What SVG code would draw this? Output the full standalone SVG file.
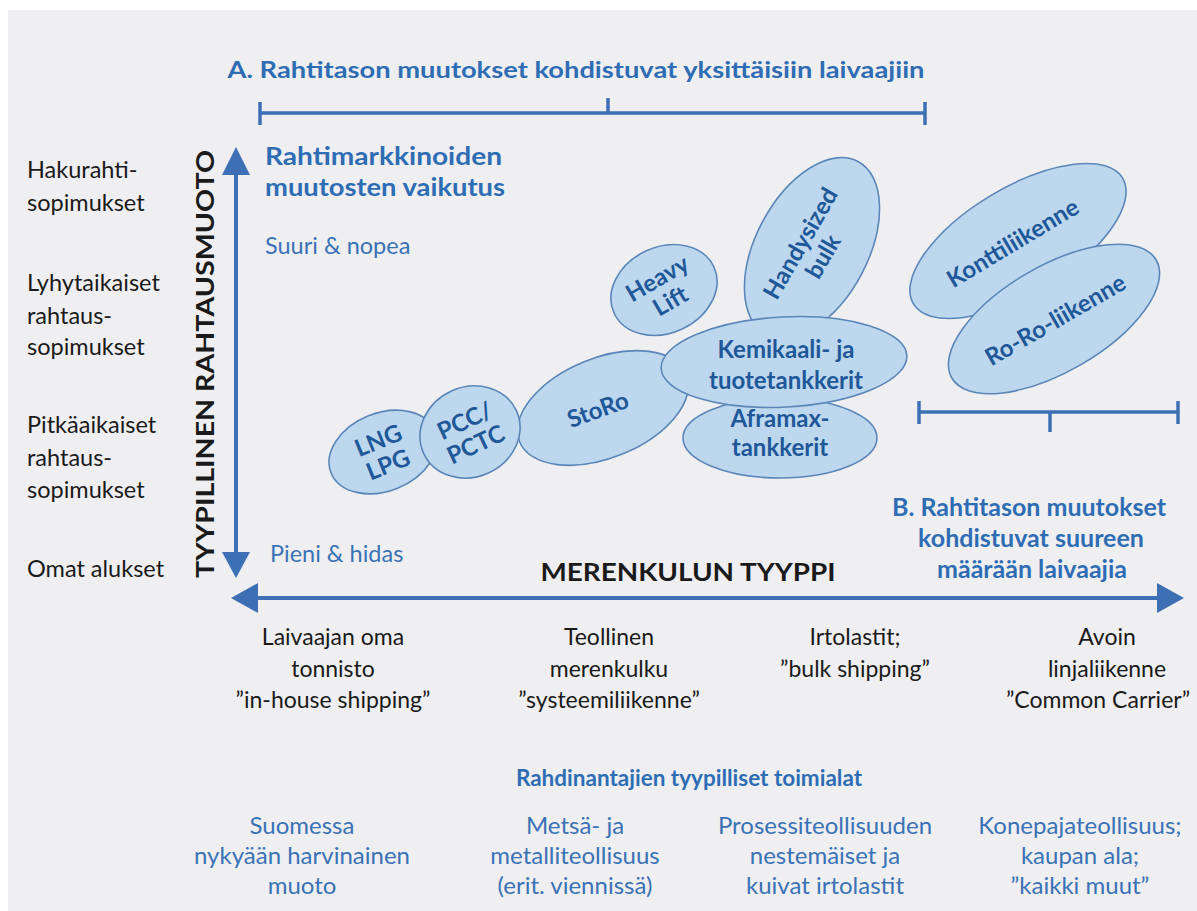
<svg xmlns="http://www.w3.org/2000/svg" width="1197" height="911" viewBox="0 0 1197 911">
<defs>
<style>
text{font-family:Lato,"Open Sans","Liberation Sans",sans-serif;}
.blk{fill:#1a1a1a;font-size:23.5px;}
.blkc{fill:#1a1a1a;font-size:23px;text-anchor:middle;}
.ttl{fill:#2e6db4;font-size:22px;font-weight:bold;}
.blu{fill:#3a72b6;font-size:23.5px;}
.bluc{fill:#3a72b6;font-size:24px;text-anchor:middle;}
.axis{fill:#1a1a1a;font-size:24px;font-weight:bold;}
.ell{fill:#bdd7ee;stroke:#5a86b8;stroke-width:1.6;}
.et{fill:#1f5898;font-size:24px;font-weight:bold;text-anchor:middle;}
.ln{stroke:#3d6fb4;stroke-width:4;fill:none;}
.br{stroke:#3d6fb4;stroke-width:3.5;fill:none;}
.ah{fill:#3d6fb4;}
</style>
</defs>
<rect x="0" y="0" width="1197" height="911" fill="#ffffff"/>
<rect x="8" y="10" width="1189" height="901" fill="#efeff1"/>

<g id="connectors">
  <line class="ln" x1="236" y1="170" x2="236" y2="556"/>
  <polygon class="ah" points="236,147 222,175 250,175"/>
  <polygon class="ah" points="236,578 222,552 250,552"/>
  <line class="ln" x1="254" y1="598" x2="1162" y2="598"/>
  <polygon class="ah" points="231,598 258,583 258,613"/>
  <polygon class="ah" points="1184,598 1157,583 1157,613"/>
  <g id="bracketA">
    <line class="br" x1="260" y1="113" x2="925" y2="113"/>
    <line class="br" x1="260" y1="102" x2="260" y2="125"/>
    <line class="br" x1="925" y1="102" x2="925" y2="125"/>
    <line class="br" x1="608" y1="98" x2="608" y2="113"/>
  </g>
  <g id="bracketB">
    <line class="br" x1="919" y1="412" x2="1178" y2="412"/>
    <line class="br" x1="919" y1="401" x2="919" y2="424"/>
    <line class="br" x1="1178" y1="401" x2="1178" y2="424"/>
    <line class="br" x1="1050" y1="412" x2="1050" y2="432"/>
  </g>
</g>

<g id="titleA"><text class="ttl" x="576" y="78" text-anchor="middle" textLength="697" lengthAdjust="spacingAndGlyphs">A. Rahtitason muutokset kohdistuvat yksittäisiin laivaajiin</text></g>

<g id="yaxis-label"><text class="axis" transform="translate(214,364) rotate(-90)" text-anchor="middle" textLength="428" lengthAdjust="spacingAndGlyphs">TYYPILLINEN RAHTAUSMUOTO</text></g>

<g id="left-labels">
  <text class="blk" x="27" y="178">Hakurahti-</text>
  <text class="blk" x="27" y="211">sopimukset</text>
  <text class="blk" x="27" y="291">Lyhytaikaiset</text>
  <text class="blk" x="27" y="324">rahtaus-</text>
  <text class="blk" x="27" y="355">sopimukset</text>
  <text class="blk" x="27" y="433">Pitkäaikaiset</text>
  <text class="blk" x="27" y="466">rahtaus-</text>
  <text class="blk" x="27" y="498">sopimukset</text>
  <text class="blk" x="27" y="577">Omat alukset</text>
</g>

<g id="market-effect">
  <text class="ttl" x="265" y="165" style="font-size:25px" textLength="237" lengthAdjust="spacingAndGlyphs">Rahtimarkkinoiden</text>
  <text class="ttl" x="265" y="196" style="font-size:25px" textLength="240" lengthAdjust="spacingAndGlyphs">muutosten vaikutus</text>
  <text class="blu" x="265" y="254">Suuri &amp; nopea</text>
  <text class="blu" x="270" y="562">Pieni &amp; hidas</text>
</g>

<g id="xaxis-label"><text class="axis" x="688" y="581" text-anchor="middle" style="font-size:25px" textLength="295" lengthAdjust="spacingAndGlyphs">MERENKULUN TYYPPI</text></g>

<g id="titleB">
  <text class="ttl" x="1029" y="516" text-anchor="middle" style="font-size:25px">B. Rahtitason muutokset</text>
  <text class="ttl" x="1031" y="547" text-anchor="middle" style="font-size:25px">kohdistuvat suureen</text>
  <text class="ttl" x="1032" y="578" text-anchor="middle" style="font-size:25px">määrään laivaajia</text>
</g>

<g id="node-lng">
  <ellipse class="ell" cx="383" cy="452" rx="56" ry="39" transform="rotate(-22 383 452)"/>
  <g transform="rotate(-22 383 452)"><text class="et" x="383" y="448">LNG</text><text class="et" x="383" y="474">LPG</text></g>
</g>
<g id="node-storo">
  <ellipse class="ell" cx="603" cy="408" rx="90" ry="50" transform="rotate(-22 603 408)"/>
  <text class="et" x="598" y="418" transform="rotate(-20 598 410)">StoRo</text>
</g>
<g id="node-pcc">
  <ellipse class="ell" cx="470" cy="432" rx="51" ry="45" transform="rotate(-25 470 432)"/>
  <g transform="rotate(-25 470 432)"><text class="et" x="470" y="428">PCC/</text><text class="et" x="470" y="454">PCTC</text></g>
</g>
<g id="node-heavy">
  <ellipse class="ell" cx="664" cy="290" rx="55" ry="43" transform="rotate(-25 664 290)"/>
  <g transform="rotate(-30 664 290)"><text class="et" x="664" y="285">Heavy</text><text class="et" x="664" y="311">Lift</text></g>
</g>
<g id="node-handy">
  <ellipse class="ell" cx="812" cy="248" rx="98" ry="56" transform="rotate(-62 812 248)"/>
  <g transform="rotate(-60 812 250)"><text class="et" x="812" y="245">Handysized</text><text class="et" x="812" y="271">bulk</text></g>
</g>
<g id="node-aframax">
  <ellipse class="ell" cx="780" cy="438" rx="97" ry="40"/>
  <text class="et" x="780" y="427">Aframax-</text>
  <text class="et" x="780" y="456">tankkerit</text>
</g>
<g id="node-kemikaali">
  <ellipse class="ell" cx="784" cy="362" rx="123" ry="45" transform="rotate(-3 784 362)"/>
  <text class="et" x="786" y="358">Kemikaali- ja</text>
  <text class="et" x="786" y="389">tuotetankkerit</text>
</g>
<g id="node-kontti">
  <ellipse class="ell" cx="1018" cy="241" rx="122" ry="53" transform="rotate(-31 1018 241)"/>
  <text class="et" x="1014" y="251" transform="rotate(-31 1014 245)">Konttiliikenne</text>
</g>
<g id="node-roro">
  <ellipse class="ell" cx="1054" cy="319" rx="118" ry="53" transform="rotate(-30 1054 319)"/>
  <text class="et" x="1056" y="328" transform="rotate(-30 1056 321)">Ro-Ro-liikenne</text>
</g>

<g id="shipping-types">
  <text class="blkc" x="333" y="645">Laivaajan oma</text>
  <text class="blkc" x="333" y="677">tonnisto</text>
  <text class="blkc" x="333" y="708">”in-house shipping”</text>
  <text class="blkc" x="609" y="645">Teollinen</text>
  <text class="blkc" x="609" y="677">merenkulku</text>
  <text class="blkc" x="609" y="708">”systeemiliikenne”</text>
  <text class="blkc" x="855" y="645">Irtolastit;</text>
  <text class="blkc" x="855" y="677">”bulk shipping”</text>
  <text class="blkc" x="1107" y="645">Avoin</text>
  <text class="blkc" x="1107" y="677">linjaliikenne</text>
  <text class="blkc" x="1098" y="708">”Common Carrier”</text>
</g>

<g id="industries-title"><text class="ttl" x="689" y="786" text-anchor="middle" style="font-size:22.5px">Rahdinantajien tyypilliset toimialat</text></g>

<g id="industries">
  <text class="bluc" x="302" y="834">Suomessa</text>
  <text class="bluc" x="302" y="864">nykyään harvinainen</text>
  <text class="bluc" x="302" y="894">muoto</text>
  <text class="bluc" x="575" y="834">Metsä- ja</text>
  <text class="bluc" x="575" y="864">metalliteollisuus</text>
  <text class="bluc" x="575" y="894">(erit. viennissä)</text>
  <text class="bluc" x="825" y="834">Prosessiteollisuuden</text>
  <text class="bluc" x="825" y="864">nestemäiset ja</text>
  <text class="bluc" x="825" y="894">kuivat irtolastit</text>
  <text class="bluc" x="1080" y="834">Konepajateollisuus;</text>
  <text class="bluc" x="1080" y="864">kaupan ala;</text>
  <text class="bluc" x="1080" y="894">”kaikki muut”</text>
</g>
</svg>
